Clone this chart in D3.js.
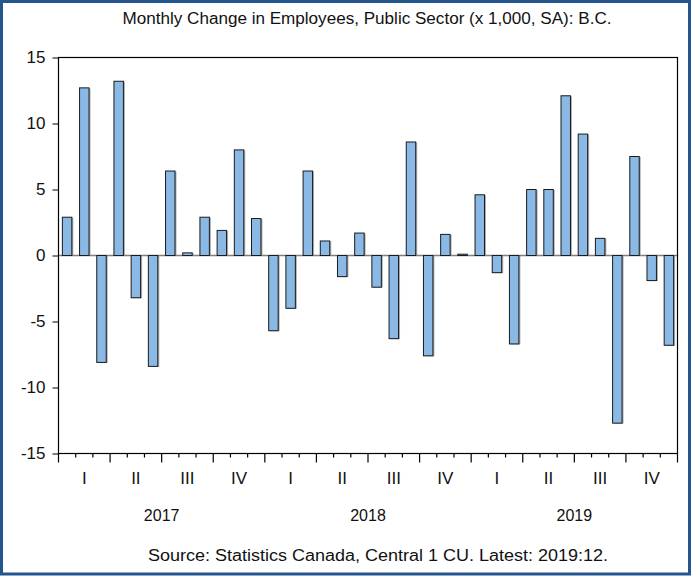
<!DOCTYPE html>
<html>
<head>
<meta charset="utf-8">
<script src="https://cdn.jsdelivr.net/npm/d3@7"></script>
<style>
html,body{margin:0;padding:0;background:#fff;}
svg{display:block;}
text{font-family:"Liberation Sans",Arial,sans-serif;fill:#111;}
</style>
</head>
<body>
<svg id="chart" width="691" height="579"></svg>
<script>
const months = ["2017:01","2017:02","2017:03","2017:04","2017:05","2017:06","2017:07","2017:08","2017:09","2017:10","2017:11","2017:12",
"2018:01","2018:02","2018:03","2018:04","2018:05","2018:06","2018:07","2018:08","2018:09","2018:10","2018:11","2018:12",
"2019:01","2019:02","2019:03","2019:04","2019:05","2019:06","2019:07","2019:08","2019:09","2019:10","2019:11","2019:12"];
const values = [2.9, 12.7, -8.1, 13.2, -3.2, -8.4, 6.4, 0.2, 2.9, 1.9, 8.0, 2.8,
-5.7, -4.0, 6.4, 1.1, -1.6, 1.7, -2.4, -6.3, 8.6, -7.6, 1.6, 0.1,
4.6, -1.3, -6.7, 5.0, 5.0, 12.1, 9.2, 1.3, -12.7, 7.5, -1.9, -6.8];
const quarterLabels = ["I","II","III","IV"];
const years = ["2017","2018","2019"];
const yTicks = [15, 10, 5, 0, -5, -10, -15];
const title = "Monthly Change in Employees, Public Sector (x 1,000, SA): B.C.";
const source = "Source: Statistics Canada, Central 1 CU. Latest: 2019:12.";

const svg = d3.select("#chart");
const L = 58.5, R = 677.5, T = 57.5, B = 453.5;

// outer border
svg.append("rect").attr("x",1.5).attr("y",1.5).attr("width",688).attr("height",572.5)
  .attr("fill","#fff").attr("stroke","#23558f").attr("stroke-width",3);

const x = d3.scaleBand().domain(months).range([L, R]).paddingInner(0.45).paddingOuter(0.225);
const y = d3.scaleLinear().domain([-15, 15]).range([B, T]);

// title
svg.append("text").attr("x",(122.5+611.5)/2).attr("y",24).attr("text-anchor","middle")
  .attr("font-size",16).attr("textLength",489).attr("lengthAdjust","spacingAndGlyphs").text(title);

// zero line
svg.append("line").attr("x1",L).attr("x2",R).attr("y1",y(0)).attr("y2",y(0))
  .attr("stroke","#7f7f7f").attr("stroke-width",1.5);

// bar shadows
svg.append("g").selectAll("rect").data(values).join("rect")
  .attr("x",(d,i)=>x(months[i])+1.5)
  .attr("y",d=>Math.min(y(d),y(0))+0.5)
  .attr("width",x.bandwidth())
  .attr("height",d=>Math.abs(y(d)-y(0)))
  .attr("fill","#8c8c8c").attr("opacity",0.7);

// bars
svg.append("g").selectAll("rect").data(values).join("rect")
  .attr("x",(d,i)=>x(months[i]))
  .attr("y",d=>Math.min(y(d),y(0)))
  .attr("width",x.bandwidth())
  .attr("height",d=>Math.max(0.8,Math.abs(y(d)-y(0))))
  .attr("fill","#8bb9e6").attr("stroke","#1b1b1b").attr("stroke-width",1);

// frame
svg.append("rect").attr("x",L).attr("y",T).attr("width",R-L).attr("height",B-T)
  .attr("fill","none").attr("stroke","#000").attr("stroke-width",1.2);

// y axis
const yAxis = d3.axisLeft(y).tickValues(yTicks).tickSize(6).tickPadding(7).tickFormat(d => String(d));
const gy = svg.append("g").attr("transform",`translate(${L},0)`).call(yAxis);
gy.select(".domain").remove();
gy.selectAll("text").attr("font-size",17).attr("fill","#111").attr("font-family","Liberation Sans, Arial, sans-serif");
gy.selectAll("line").attr("stroke","#000");

// x ticks
const step = x.step();
const tickPos = d3.range(months.length + 1).map(i => L + i * step);
svg.append("g").selectAll("line").data(tickPos).join("line")
  .attr("x1",d=>d).attr("x2",d=>d).attr("y1",B)
  .attr("y2",(d,i)=> i % 3 === 0 ? B + 9 : B + 4)
  .attr("stroke","#000").attr("stroke-width",1.2);

// quarter labels
const qData = d3.range(12).map(q => ({label: quarterLabels[q % 4], cx: L + (q*3 + 1.5) * step}));
svg.append("g").selectAll("text").data(qData).join("text")
  .attr("x",d=>d.cx).attr("y",484).attr("text-anchor","middle").attr("font-size",17)
  .text(d=>d.label);

// year labels
svg.append("g").selectAll("text").data(years).join("text")
  .attr("x",(d,i)=>L + (i*12 + 6) * step).attr("y",521).attr("text-anchor","middle").attr("font-size",16)
  .text(d=>d);

// source
svg.append("text").attr("x",(148+608)/2).attr("y",561).attr("text-anchor","middle")
  .attr("font-size",16).attr("textLength",460).attr("lengthAdjust","spacingAndGlyphs").text(source);
</script>
</body>
</html>
